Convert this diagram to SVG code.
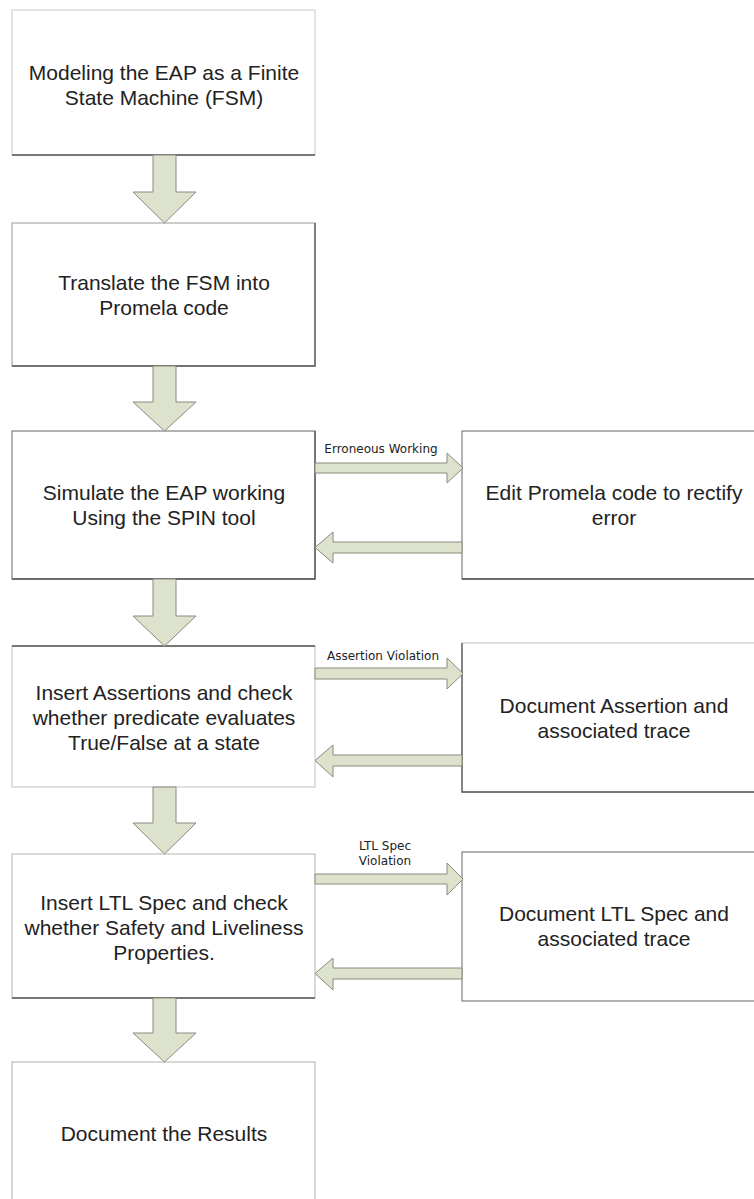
<svg xmlns="http://www.w3.org/2000/svg" width="754" height="1199" viewBox="0 0 754 1199">
<style>
.box{fill:#fff;stroke:#9a9a9a;stroke-width:1}
.edge{stroke:#555;stroke-width:1.3;fill:none}
.t{font-family:"Liberation Sans",Arial,sans-serif;font-size:21px;fill:#222;text-anchor:middle}
.lbl{font-family:"DejaVu Sans",Verdana,sans-serif;font-size:12px;fill:#222;text-anchor:middle}
.arr{fill:#dde2cc;stroke:#8a8a80;stroke-width:1}
</style>
<rect width="754" height="1199" fill="#fff"/>
<g id="n1">
<rect class="box" x="12" y="10" width="303" height="145" style="stroke:#c8c8c8"/>
<path class="edge" d="M12 155H315"/>
<text class="t" x="164" y="80">Modeling the EAP as a Finite</text>
<text class="t" x="164" y="105">State Machine (FSM)</text>
</g>
<g id="n2">
<rect class="box" x="12" y="223" width="303" height="143"/>
<path class="edge" d="M315 223V366H12"/>
<text class="t" x="164" y="290">Translate the FSM into</text>
<text class="t" x="164" y="315">Promela code</text>
</g>
<g id="n3">
<rect class="box" x="12" y="431" width="303" height="148" style="stroke:#666"/>
<path class="edge" d="M315 431V579H12"/>
<text class="t" x="164" y="500">Simulate the EAP working</text>
<text class="t" x="164" y="525">Using the SPIN tool</text>
</g>
<g id="n4">
<rect class="box" x="12" y="646" width="303" height="141" style="stroke:#c0c0c0"/>
<path class="edge" d="M12 646H315"/>
<text class="t" x="164" y="700">Insert Assertions and check</text>
<text class="t" x="164" y="725">whether predicate evaluates</text>
<text class="t" x="164" y="750">True/False at a state</text>
</g>
<g id="n5">
<rect class="box" x="12" y="854" width="303" height="144" style="stroke:#b5b5b5"/>
<path class="edge" d="M12 998H315"/>
<text class="t" x="164" y="910">Insert LTL Spec and check</text>
<text class="t" x="164" y="935">whether Safety and Liveliness</text>
<text class="t" x="164" y="960">Properties.</text>
</g>
<g id="n6">
<rect class="box" x="12" y="1062" width="303" height="150" style="stroke:#b0b0b0"/>
<text class="t" x="164" y="1141">Document the Results</text>
</g>
<g id="s1">
<rect class="box" x="462" y="431" width="310" height="148" style="stroke:#666"/>
<path class="edge" d="M462 579H760"/>
<text class="t" x="614" y="500">Edit Promela code to rectify</text>
<text class="t" x="614" y="525">error</text>
</g>
<g id="s2">
<rect class="box" x="462" y="643" width="310" height="149" style="stroke:#c0c0c0"/>
<path class="edge" d="M462 643V792H760"/>
<text class="t" x="614" y="713">Document Assertion and</text>
<text class="t" x="614" y="738">associated trace</text>
</g>
<g id="s3">
<rect class="box" x="462" y="852" width="310" height="149" style="stroke:#666"/>
<text class="t" x="614" y="921">Document LTL Spec and</text>
<text class="t" x="614" y="946">associated trace</text>
</g>
<g id="connectors">
<path class="arr" d="M153 155H176V192H196L164.5 223L133 192H153Z"/>
<path class="arr" d="M153 366H176V402H196L164.5 431L133 402H153Z"/>
<path class="arr" d="M153 579H176V616H196L164.5 646L133 616H153Z"/>
<path class="arr" d="M153 787H176V823H196L164.5 854L133 823H153Z"/>
<path class="arr" d="M153 998H176V1033H196L164.5 1062L133 1033H153Z"/>
<path class="arr" d="M315 463H447V453L463 468L447 483V473H315Z"/>
<path class="arr" d="M315 668H447V658L463 673.5L447 689V679H315Z"/>
<path class="arr" d="M315 874H447V863L463 879L447 895V884H315Z"/>
<path class="arr" d="M462 542H333V532L315 547.5L333 563V553H462Z"/>
<path class="arr" d="M462 755H333V745L315 760.5L333 777V766H462Z"/>
<path class="arr" d="M462 968H333V958L315 973.5L333 990V979H462Z"/>
<text class="lbl" x="381" y="453">Erroneous Working</text>
<text class="lbl" x="383" y="660">Assertion Violation</text>
<text class="lbl" x="385" y="850">LTL Spec</text>
<text class="lbl" x="385" y="865">Violation</text>
</g>
</svg>
